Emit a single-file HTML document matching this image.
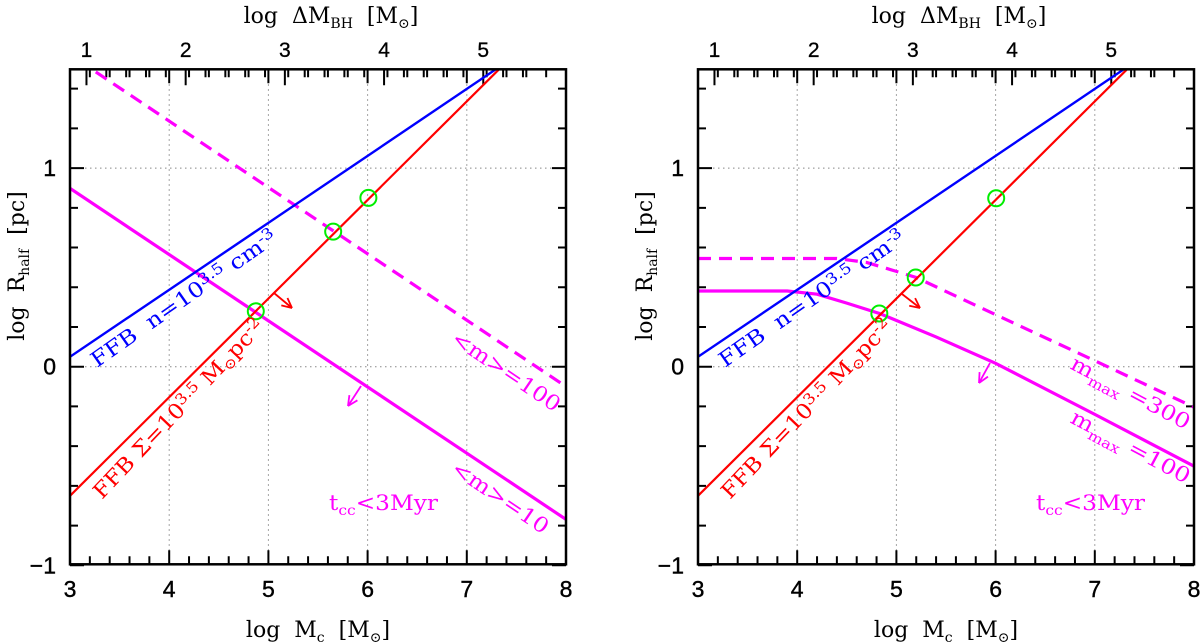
<!DOCTYPE html>
<html><head><meta charset="utf-8"><style>
html,body{margin:0;padding:0;background:#fff;}
svg{display:block;font-family:"DejaVu Serif","Liberation Serif",serif;}
</style></head><body>
<svg id="fig" width="1200" height="644" viewBox="0 0 1200 644"></svg>
<script>
// ---- data ----
const xTicks=[3,4,5,6,7,8];
const yTicks=[-1,0,1];
const topTicks=[1,2,3,4,5];
const bhOffset=2.166;
const blueX=[3,7.3];
const blueY=[0.05,1.5];
const redX=[3,7.33];
const redY=[-0.65,1.5];
const leftSolidX=[3,8];
const leftSolidY=[0.898,-0.769];
const leftDashX=[3.26,8];
const leftDashY=[1.484,-0.10];
const leftCircX=[4.873,5.653,6.008];
const leftCircY=[0.279,0.680,0.850];
const rightSolidX=[3,3.9,4.2,4.5,4.83,5.4,6,7,8];
const rightSolidY=[0.381,0.381,0.365,0.32,0.268,0.15,0.017,-0.24,-0.501];
const rightDashX=[3,4.4,4.7,5.0,5.2,6,7,8];
const rightDashY=[0.545,0.545,0.525,0.48,0.449,0.262,0.03,-0.204];
const rightCircX=[4.828,5.195,6.006];
const rightCircY=[0.268,0.449,0.848];

const NS="http://www.w3.org/2000/svg";
const svg=document.getElementById('fig');
function el(tag,attrs,parent){const e=document.createElementNS(NS,tag);for(const k in attrs)e.setAttribute(k,attrs[k]);(parent||svg).appendChild(e);return e;}

function panel(ox,name,solidX,solidY,dashX,dashY,circX,circY,cfg){
  const x0=ox, x1=ox+496, yT=69.3, yB=564.3;
  const sx=v=>x0+(v-3)*(x1-x0)/5;
  const sy=v=>366.7-v*198.6;
  const g=el('g',{});
  
  
  [4,5,6,7].forEach(v=>{const l=el('line',{x1:sx(v),x2:sx(v),y1:yT,y2:yB,stroke:'#888','stroke-width':1,'stroke-dasharray':'1.5,3.5'},g);});
  [0,1].forEach(v=>{const l=el('line',{x1:x0,x2:x1,y1:sy(v),y2:sy(v),stroke:'#888','stroke-width':1,'stroke-dasharray':'1.5,3.5'},g);});
  let d='';
  for(let i=0;i<=25;i++){const v=3+i*0.2;const L=(i%5===0)?14:8;d+=`M${sx(v)},${yB}v${-L}M${sx(v)},${yT}v${L}`;}
  for(let i=0;i<=12;i++){const v=-1+i*0.2;const L=(i%5===0)?14:8;d+=`M${x0},${sy(v)}h${L}M${x1},${sy(v)}h${-L}`;}
  for(let v=1;v<=5.6;v+=0.2){const m=Math.abs(v-Math.round(v))<0.01;const px=sx(v+bhOffset);if(px>x1)break;d+=`M${px},${yT}v${m?16:8}`;}
  const tk=el('path',{d:d,stroke:'#000','stroke-width':2,fill:'none'},g);
  
  const pl=(xs,ys)=>xs.map((v,i)=>sx(v)+','+sy(ys[i])).join(' ');
  const clip=el('clipPath',{id:'c'+name},g);el('rect',{x:x0,y:yT,width:x1-x0,height:yB-yT},clip);
  const cg=el('g',{'clip-path':`url(#c${name})`},g);
  let p;
  p=el('polyline',{points:pl(dashX,dashY),fill:'none',stroke:'#ff00ff','stroke-width':3.2,'stroke-dasharray':'13,8'},cg);
  p=el('polyline',{points:pl(solidX,solidY),fill:'none',stroke:'#ff00ff','stroke-width':3.2},cg);
  p=el('polyline',{points:pl(blueX,blueY),fill:'none',stroke:'#0000ff','stroke-width':2.4},cg);
  p=el('polyline',{points:pl(redX,redY),fill:'none',stroke:'#ff0000','stroke-width':2.2},cg);
  circX.forEach((v,i)=>{const c=el('circle',{cx:sx(v),cy:sy(circY[i]),r:8,fill:'none',stroke:'#00ee00','stroke-width':2},g);});
  cfg.arrows.forEach(a=>{const ag=el('g',{stroke:a.c,'stroke-width':1.8,fill:'none'},g);
    const X1=a.p[0],Y1=a.p[1],X2=a.p[2],Y2=a.p[3];el('line',{x1:X1,y1:Y1,x2:X2,y2:Y2},ag);
    const ang=Math.atan2(Y2-Y1,X2-X1);[0.45,-0.45].forEach(s=>{el('line',{x1:X2,y1:Y2,x2:X2-11*Math.cos(ang+s),y2:Y2-11*Math.sin(ang+s)},ag);});});
  const fr=el('rect',{x:x0,y:yT,width:x1-x0,height:yB-yT,fill:'none',stroke:'#000','stroke-width':2.5},g);
  
  xTicks.forEach(v=>{const t=el('text',{x:sx(v),y:597,'font-size':23,'text-anchor':'middle','font-family':'Liberation Sans, sans-serif',stroke:'#000','stroke-width':0.4},g);t.textContent=v;});
  yTicks.forEach(v=>{const t=el('text',{x:x0-14,y:sy(v)+8,'font-size':23,'text-anchor':'end','font-family':'Liberation Sans, sans-serif',stroke:'#000','stroke-width':0.4},g);t.textContent=v<0?'\u2212'+(-v):v;});
  topTicks.forEach(v=>{const t=el('text',{x:sx(v+bhOffset),y:57,'font-size':21,'text-anchor':'middle','font-family':'Liberation Sans, sans-serif',stroke:'#000','stroke-width':0.3},g);t.textContent=v;});
  let t=el('text',{x:ox+248,y:637,'font-size':22,'text-anchor':'middle'},g);
  t.innerHTML='log&#160;&#160;M<tspan font-size="14" dy="5">c</tspan><tspan dy="-5">&#160;&#160;[M</tspan><tspan font-size="14" dy="5">\u2299</tspan><tspan dy="-5">]</tspan>';
  t=el('text',{x:ox+261,y:23,'font-size':22,'text-anchor':'middle'},g);
  t.innerHTML='log&#160;&#160;\u0394M<tspan font-size="14" dy="5">BH</tspan><tspan dy="-5">&#160;&#160;[M</tspan><tspan font-size="14" dy="5">\u2299</tspan><tspan dy="-5">]</tspan>';
  t=el('text',{x:0,y:0,'font-size':22,'text-anchor':'middle',transform:`translate(${ox-46},266) rotate(-90)`},g);
  t.innerHTML='log&#160;&#160;R<tspan font-size="14" dy="5">half</tspan><tspan dy="-5">&#160;&#160;[pc]</tspan>';
  cfg.labels.forEach(L=>{const tt=el('text',{x:0,y:0,'font-size':L.fs||21,fill:L.c,transform:`translate(${ox-70+L.x},${L.y}) rotate(${L.r})`,textLength:L.len,lengthAdjust:'spacingAndGlyphs'},g);tt.innerHTML=L.h;});
}
const blueLbl={n:'blue-line-label',c:'#0000ff',x:97,y:368,r:-35,len:222,h:'FFB&#160;&#160;n=10<tspan font-size="15" dy="-7">3.5</tspan><tspan dy="7"> cm</tspan><tspan font-size="15" dy="-7">-3</tspan>'};
const redLbl={n:'red-line-label',c:'#ff0000',x:102,y:500,r:-46.5,len:238,h:'FFB \u03a3=10<tspan font-size="15" dy="-7">3.5</tspan><tspan dy="7"> M</tspan><tspan font-size="14" dy="4">\u2299</tspan><tspan dy="-4">pc</tspan><tspan font-size="15" dy="-7">-2</tspan>'};
const tcc=(x,y)=>({n:'tcc-label',c:'#ff00ff',x:x,y:y,r:0,len:109,h:'t<tspan font-size="14" dy="5">cc</tspan><tspan dy="-5">&lt;3Myr</tspan>'});
panel(70,'left-panel',leftSolidX,leftSolidY,leftDashX,leftDashY,leftCircX,leftCircY,{
  arrows:[{c:'#ff0000',p:[274,293,292,308]},{c:'#ff00ff',p:[361,386,348,406]}],
  labels:[blueLbl,redLbl,tcc(329,510),
   {n:'m100-label',c:'#ff00ff',x:450,y:342,r:34,len:126,h:'&lt;m&gt;=100'},
   {n:'m10-label',c:'#ff00ff',x:450,y:472,r:34,len:112,h:'&lt;m&gt;=10'}]
});
panel(698,'right-panel',rightSolidX,rightSolidY,rightDashX,rightDashY,rightCircX,rightCircY,{
  arrows:[{c:'#ff0000',p:[902,294,920,308]},{c:'#ff00ff',p:[990,363,979,383]}],
  labels:[blueLbl,redLbl,tcc(408,510),
   {n:'mmax300-label',c:'#ff00ff',x:441,y:368,r:28,len:132,h:'m<tspan font-size="14" dy="6">max</tspan><tspan dy="-6"> =300</tspan>'},
   {n:'mmax100-label',c:'#ff00ff',x:441,y:422,r:28,len:132,h:'m<tspan font-size="14" dy="6">max</tspan><tspan dy="-6"> =100</tspan>'}]
});
</script>
</body></html>
